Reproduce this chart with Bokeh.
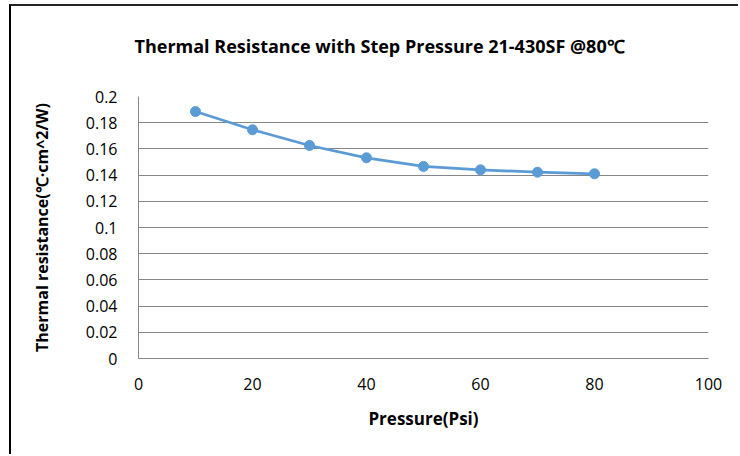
from bokeh.plotting import figure
from bokeh.models import FixedTicker, NumeralTickFormatter, Range1d, Title
from bokeh.embed import file_html
from bokeh.resources import INLINE

# data
pressure = [10, 20, 30, 40, 50, 60, 70, 80]
resistance = [0.1885, 0.1746, 0.1626, 0.1532, 0.1466, 0.1440, 0.1422, 0.1410]
x_ticks = [0, 20, 40, 60, 80, 100]
y_ticks = [0, 0.02, 0.04, 0.06, 0.08, 0.1, 0.12, 0.14, 0.16, 0.18, 0.2]

title_text = "Thermal Resistance with Step Pressure 21-430SF @80\u2103"
x_label = "Pressure(Psi)"
y_label = "Thermal resistance(\u2103\u00b7cm^2/W)"

FONT = "Open Sans"
GRID = "#868686"
BLUE = "#5B9BD5"

p = figure(width=729, height=450, output_backend="svg", toolbar_location=None,
           x_range=Range1d(0, 100), y_range=Range1d(0, 0.2),
           min_border_left=127, min_border_right=32, min_border_top=90, min_border_bottom=98)
p.styles = {"margin-top": "4px", "margin-left": "9px", "border-left": "2px solid #000000",
            "border-top": "2px solid #222222"}

# spacer between the title and the plot frame
spacer = Title(text=" ", text_font_size="10px", standoff=24)
p.add_layout(spacer, "above")

p.title.text = title_text
p.title.text_font = FONT
p.title.text_font_size = "18px"
p.title.text_font_style = "bold"
p.title.align = "left"
p.title.vertical_align = "top"
p.title.offset = -4
p.title.standoff = 0
p.title.text_color = "#000000"

p.outline_line_color = None
p.background_fill_color = "white"
p.border_fill_color = "white"

p.xgrid.grid_line_color = None
p.ygrid.grid_line_color = GRID
p.ygrid.grid_line_width = 1
p.ygrid.ticker = FixedTicker(ticks=y_ticks)

p.xaxis.ticker = FixedTicker(ticks=x_ticks)
p.yaxis.ticker = FixedTicker(ticks=y_ticks)
p.yaxis.formatter = NumeralTickFormatter(format="0.[00]")

for ax in (p.xaxis[0], p.yaxis[0]):
    ax.axis_line_color = GRID
    ax.axis_line_width = 1
    ax.major_tick_in = 0
    ax.major_tick_out = 0
    ax.minor_tick_in = 0
    ax.minor_tick_out = 0
    ax.major_label_text_font = FONT
    ax.major_label_text_font_size = "16px"
    ax.major_label_text_color = "#000000"
    ax.axis_label_text_font = FONT
    ax.axis_label_text_font_style = "bold"
    ax.axis_label_text_color = "#000000"

p.xaxis.axis_label_text_font_size = "17px"
p.yaxis.axis_label_text_font_size = "16px"
p.xaxis.axis_label = x_label
p.yaxis.axis_label = y_label
p.xaxis.major_label_standoff = 19
p.yaxis.major_label_standoff = 21
p.xaxis.axis_label_standoff = 14
p.yaxis.axis_label_standoff = 30

p.line(pressure, resistance, line_color=BLUE, line_width=2.75)
p.scatter(pressure, resistance, size=10, fill_color=BLUE, line_color=BLUE)

open("out.html", "w").write(file_html(p, INLINE))
